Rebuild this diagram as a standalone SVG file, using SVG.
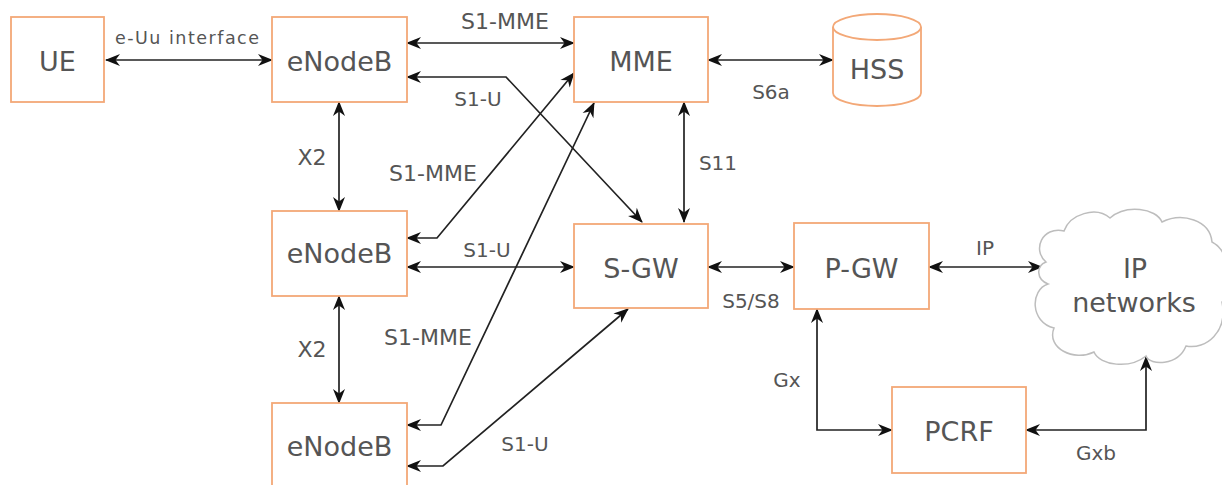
<svg xmlns="http://www.w3.org/2000/svg" width="1222" height="485" viewBox="0 0 1222 485">
<style>
.box{fill:#fff;stroke:#f3a877;stroke-width:1.8}
.nl{font-family:"DejaVu Sans",Verdana,sans-serif;font-size:27px;fill:#555;text-anchor:middle}
.el{font-family:"DejaVu Sans",Verdana,sans-serif;font-size:20px;fill:#555;text-anchor:middle}
.big{font-size:22px}
.c{fill:none;stroke:#222;stroke-width:1.7;marker-start:url(#ah);marker-end:url(#ah)}
.cloud{fill:#fff;stroke:#bdbdbd;stroke-width:1.5}
</style>
<defs>
<marker id="ah" markerUnits="userSpaceOnUse" markerWidth="18" markerHeight="16" viewBox="-16 -8 18 16" refX="0" refY="0" orient="auto-start-reverse">
<path d="M1,0 L-14,-6 L-9.5,0 L-14,6 Z" fill="#111"/>
</marker>
</defs>
<rect width="1222" height="485" fill="#fff"/>
<g id="connectors">
<path class="c" d="M106,60 H272"/>
<path class="c" d="M407,43 H574"/>
<path class="c" d="M407,77 H506 L642,222"/>
<path class="c" d="M708,60 H833"/>
<path class="c" d="M684,102 V222"/>
<path class="c" d="M407,238 H437 L574,73"/>
<path class="c" d="M339,102 V211"/>
<path class="c" d="M407,267 H574"/>
<path class="c" d="M339,296 V403"/>
<path class="c" d="M407,425 H441 L594,103"/>
<path class="c" d="M407,466 H443 L628,309"/>
<path class="c" d="M708,267 H794"/>
<path class="c" d="M929,267 H1042"/>
<path class="c" d="M817,309 V430 H892"/>
<path class="c" d="M1026,430 H1146 V357"/>
<text class="el" x="187" y="44" textLength="144" lengthAdjust="spacing" style="font-size:17.5px">e-Uu interface</text>
<text class="el big" x="505" y="29">S1-MME</text>
<text class="el" x="478" y="106">S1-U</text>
<text class="el" x="771" y="99">S6a</text>
<text class="el" x="718" y="170">S11</text>
<text class="el big" x="312" y="165">X2</text>
<text class="el big" x="433" y="181">S1-MME</text>
<text class="el" x="487" y="257">S1-U</text>
<text class="el big" x="312" y="357">X2</text>
<text class="el big" x="428" y="345">S1-MME</text>
<text class="el" x="525" y="451">S1-U</text>
<text class="el" x="751" y="308">S5/S8</text>
<text class="el" x="985" y="255">IP</text>
<text class="el" x="787" y="387">Gx</text>
<text class="el" x="1096" y="460">Gxb</text>
</g>
<g id="ue"><rect class="box" x="11" y="17" width="93" height="85"/><text class="nl" x="57.5" y="71">UE</text></g>
<g id="enodeb1"><rect class="box" x="272" y="17" width="135" height="85"/><text class="nl" x="339.5" y="71">eNodeB</text></g>
<g id="mme"><rect class="box" x="574" y="17" width="134" height="85"/><text class="nl" x="641" y="71">MME</text></g>
<g id="hss">
<path class="box" d="M833,27 V93 A44,13 0 0 0 921,93 V27"/>
<ellipse class="box" cx="877" cy="27" rx="44" ry="13"/>
<text class="nl" x="877" y="79">HSS</text>
</g>
<g id="enodeb2"><rect class="box" x="272" y="211" width="135" height="85"/><text class="nl" x="339.5" y="263">eNodeB</text></g>
<g id="sgw"><rect class="box" x="574" y="224" width="134" height="84"/><text class="nl" x="641" y="278">S-GW</text></g>
<g id="pgw"><rect class="box" x="794" y="223" width="135" height="86"/><text class="nl" x="861.5" y="278">P-GW</text></g>
<g id="enodeb3"><rect class="box" x="272" y="403" width="135" height="86"/><text class="nl" x="339.5" y="456">eNodeB</text></g>
<g id="pcrf"><rect class="box" x="892" y="387" width="134" height="86"/><text class="nl" x="959" y="441">PCRF</text></g>
<g id="ipnetworks">
<path class="cloud" d="M1046,262 C1032,250 1042,226 1064,231 C1070,214 1096,206 1110,218 C1126,204 1156,208 1162,222 C1182,212 1210,220 1212,242 C1232,252 1232,292 1222,302 C1228,332 1206,350 1186,346 C1178,366 1150,366 1146,356 C1130,369 1100,366 1094,352 C1074,362 1046,348 1054,328 C1030,322 1030,290 1048,284 C1036,279 1036,266 1046,262 Z"/>
<text class="nl" x="1135" y="278">IP</text>
<text class="nl" x="1134" y="312">networks</text>
</g>
</svg>
